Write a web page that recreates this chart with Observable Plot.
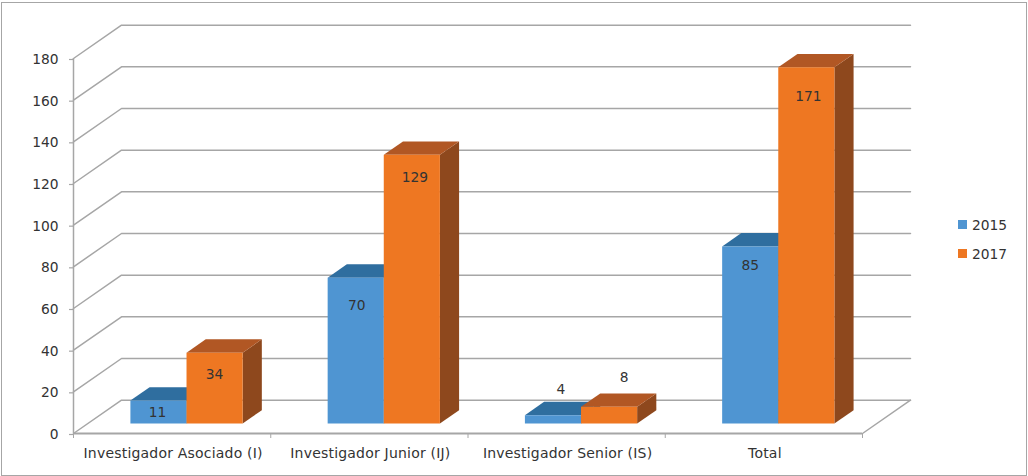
<!DOCTYPE html>
<html><head><meta charset="utf-8">
<script src="https://cdn.jsdelivr.net/npm/d3@7"></script>
<script src="https://cdn.jsdelivr.net/npm/@observablehq/plot@0.6"></script>
<style>
html,body{margin:0;padding:0;background:#fff;overflow:hidden}
#wrap{position:relative;width:1028px;height:476px;font-family:"DejaVu Sans",sans-serif;color:#333}
#frame{position:absolute;left:1px;top:2px;width:1024px;height:472px;border:1px solid #a6a6a6;box-sizing:content-box}
#chart{position:absolute;left:0;top:0}
.leg{position:absolute;left:958px;font-size:13.8px;line-height:16px;white-space:nowrap}
.leg i{position:absolute;left:0;top:3px;width:9px;height:9px}
.leg span{position:absolute;left:14px;top:0}
</style></head><body>
<div id="wrap"><div id="frame"></div><div id="chart"></div>
<div class="leg" style="top:217px"><i style="background:#4f95d2"></i><span>2015</span></div>
<div class="leg" style="top:246px"><i style="background:#ee7722"></i><span>2017</span></div>
</div>
<script>
const categories = ["Investigador Asociado (I)", "Investigador Junior (IJ)", "Investigador Senior (IS)", "Total"];
const series = ["2015", "2017"];
const values2015 = [11, 70, 4, 85];
const values2017 = [34, 129, 8, 171];
const yTicks = [0, 20, 40, 60, 80, 100, 120, 140, 160, 180];

// Oblique "3D" projection, in data units: depth 0 = front edge of floor, 1 = back wall
const depthX = 0.2433, depthY = 16;
const proj = (cat, val, d) => ({x: cat + depthX * d, y: val + depthY * d});
const barD0 = 0.3, barD1 = 0.7, barGap = 0.2155, barW = 0.2845;
const colors = {
  "2015": {front: "#4f95d2", top: "#2f6e9f", side: "#2b618c"},
  "2017": {front: "#ee7722", top: "#b15724", side: "#8e481d"}
};
// label nudges in pixels, relative to the centre of the bar's front top edge
const labelNudge = {
  "2015": [[-1, 12], [1, 28], [8, -26], [0, 19]],
  "2017": [[0, 22], [3, 23], [15, -29], [2, 29]]
};

const faces = [], labels = [];
categories.forEach((c, i) => {
  series.forEach((s, j) => {
    const v = (j ? values2017 : values2015)[i];
    const x0 = i + barGap + j * barW, x1 = x0 + barW;
    const poly = (kind, pts) => pts.forEach(p => faces.push({id: `${i}-${s}-${kind}`, color: colors[s][kind], ...p}));
    poly("side", [proj(x1, 0, barD0), proj(x1, 0, barD1), proj(x1, v, barD1), proj(x1, v, barD0)]);
    poly("top", [proj(x0, v, barD0), proj(x0, v, barD1), proj(x1, v, barD1), proj(x1, v, barD0)]);
    poly("front", [proj(x0, 0, barD0), proj(x1, 0, barD0), proj(x1, v, barD0), proj(x0, v, barD0)]);
    const p = proj((x0 + x1) / 2, v, barD0);
    labels.push({...p, v, dx: labelNudge[s][i][0], dy: labelNudge[s][i][1]});
  });
});

const wall = yTicks.flatMap(v => [
  {id: v, ...proj(0, v, 0)}, {id: v, ...proj(0, v, 1)}, {id: v, ...proj(categories.length, v, 1)}
]);
const floorEdge = [proj(categories.length, 0, 0), proj(categories.length, 0, 1)];
const gridColor = "#a6a6a6", font = "DejaVu Sans, sans-serif", ink = "#333333";

const plot = Plot.plot({
  width: 1028, height: 476,
  marginLeft: 73, marginRight: 166, marginTop: 58, marginBottom: 43,
  style: {background: "transparent", overflow: "visible", fontFamily: font, fontSize: "13.8px"},
  x: {domain: [0, categories.length]},
  y: {domain: [0, 180]},
  color: {type: "identity"},
  marks: [
    Plot.line(wall, {x: "x", y: "y", z: "id", stroke: gridColor, strokeWidth: 1.5}),
    Plot.line(floorEdge, {x: "x", y: "y", stroke: gridColor, strokeWidth: 1.5}),
    Plot.ruleY([0], {x1: 0, x2: categories.length, stroke: gridColor, strokeWidth: 2}),
    Plot.ruleX([0], {y1: 0, y2: 180, stroke: gridColor, strokeWidth: 1.5}),
    Plot.axisY({ticks: yTicks, tickSize: 4, tickPadding: 11, label: null, stroke: gridColor, color: ink, fontSize: 13.8, dy: 1, strokeWidth: 1.2}),
    Plot.axisX({ticks: d3.range(categories.length + 1), tickSize: 5, tickFormat: () => "", label: null, stroke: gridColor}),
    Plot.axisX({ticks: categories.map((_, i) => i + 0.5), tickSize: 0, tickPadding: 15, tickFormat: t => categories[Math.floor(t)], label: null, color: ink, fontSize: 14, dx: 1}),
    Plot.line(faces, {x: "x", y: "y", z: "id", fill: "color", stroke: "none"}),
    ...labels.map(l => Plot.text([l], {x: "x", y: "y", text: "v", dx: l.dx, dy: l.dy, fill: ink, fontSize: 13.8}))
  ]
});
plot.querySelectorAll('[aria-label="x-axis tick label"]').forEach(g => g.style.letterSpacing = "0.2px");
document.getElementById("chart").append(plot);
</script>
</body></html>
